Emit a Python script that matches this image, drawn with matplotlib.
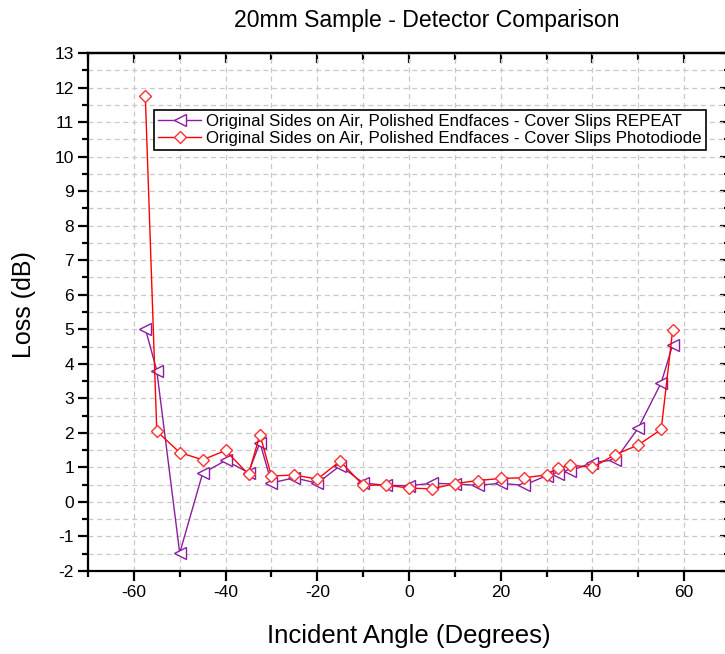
import matplotlib
matplotlib.use("Agg")
import matplotlib.pyplot as plt
from matplotlib.ticker import MultipleLocator

plt.rcParams['font.family'] = ['Liberation Sans', 'DejaVu Sans']
plt.rcParams['axes.unicode_minus'] = False

# Incident angles (degrees)
angles = [-57.5, -55, -50, -45, -40, -35, -32.5, -30, -25, -20, -15, -10, -5,
          0, 5, 10, 15, 20, 25, 30, 32.5, 35, 40, 45, 50, 55, 57.5]

# Loss (dB) - repeat run
loss_repeat = [5.02, 3.8, -1.48, 0.83, 1.2, 0.85, 1.72, 0.55, 0.7, 0.54, 1.05,
               0.55, 0.48, 0.47, 0.54, 0.52, 0.48, 0.54, 0.48, 0.76, 0.8, 0.89,
               1.14, 1.22, 2.14, 3.45, 4.55]

# Loss (dB) - photodiode detector
loss_photodiode = [11.75, 2.05, 1.43, 1.22, 1.49, 0.8, 1.95, 0.75, 0.78, 0.66,
                   1.18, 0.48, 0.49, 0.4, 0.38, 0.53, 0.62, 0.68, 0.7, 0.78,
                   0.97, 1.07, 1.0, 1.37, 1.65, 2.1, 4.98]

label_repeat = "Original Sides on Air, Polished Endfaces - Cover Slips REPEAT"
label_photodiode = "Original Sides on Air, Polished Endfaces - Cover Slips Photodiode"

fig = plt.figure(figsize=(7.25, 6.54), dpi=100)
ax = fig.add_axes([88 / 725, 83 / 654, 642 / 725, 518 / 654])

ax.plot(angles, loss_repeat, color='#8B1E9E', lw=1.0, marker='<',
        markersize=8, markerfacecolor='white', markeredgecolor='#8B1E9E',
        markeredgewidth=1.0, label=label_repeat, zorder=3)
ax.plot(angles, loss_photodiode, color='#FF0000', lw=1.0, marker='D',
        markersize=6.5, markerfacecolor='white', markeredgecolor='#FF3030',
        markeredgewidth=1.0, label=label_photodiode, zorder=4)

ax.set_xlim(-70, 70)
ax.set_ylim(-2, 13)
ax.xaxis.set_major_locator(MultipleLocator(20))
ax.xaxis.set_minor_locator(MultipleLocator(10))
ax.yaxis.set_major_locator(MultipleLocator(1))
ax.yaxis.set_minor_locator(MultipleLocator(0.5))

ax.grid(True, which='both', color='#C8C8C8', linestyle=(0, (4, 3)), lw=0.9)
ax.set_axisbelow(True)

for side in ['left', 'bottom', 'top', 'right']:
    ax.spines[side].set_linewidth(1.6)
    ax.spines[side].set_color('black')

ax.tick_params(axis='both', which='major', direction='out', length=7,
               width=1.6, labelsize=12.5, pad=3)
ax.tick_params(axis='both', which='minor', direction='out', length=4.5,
               width=1.6)

# Mirrored inward ticks on top and right
axt = ax.secondary_xaxis('top')
axt.xaxis.set_major_locator(MultipleLocator(20))
axt.xaxis.set_minor_locator(MultipleLocator(10))
axt.tick_params(which='major', direction='in', length=7, width=1.6, labeltop=False)
axt.tick_params(which='minor', direction='in', length=5, width=1.6)
axt.spines['top'].set_linewidth(1.6)
axr = ax.secondary_yaxis('right')
axr.yaxis.set_major_locator(MultipleLocator(1))
axr.yaxis.set_minor_locator(MultipleLocator(0.5))
axr.tick_params(which='major', direction='in', length=7, width=1.6, labelright=False)
axr.tick_params(which='minor', direction='in', length=4.5, width=1.6)

ax.set_xlabel("Incident Angle (Degrees)", fontsize=18.5, labelpad=17)
ax.set_ylabel("Loss (dB)", fontsize=18, labelpad=10)
ax.yaxis.set_label_coords(-0.081, 0.515)
ax.set_title("20mm Sample - Detector Comparison", fontsize=16.6, pad=19, x=0.527)

leg = ax.legend(loc='upper left', bbox_to_anchor=(0.103, 0.89),
                borderaxespad=0, fontsize=12.2, fancybox=False, framealpha=1,
                edgecolor='black', handlelength=2.5, numpoints=1,
                borderpad=0.25, labelspacing=0.1, handletextpad=0.3)
leg.get_frame().set_linewidth(1.2)

fig.savefig("out.png", dpi=100)
